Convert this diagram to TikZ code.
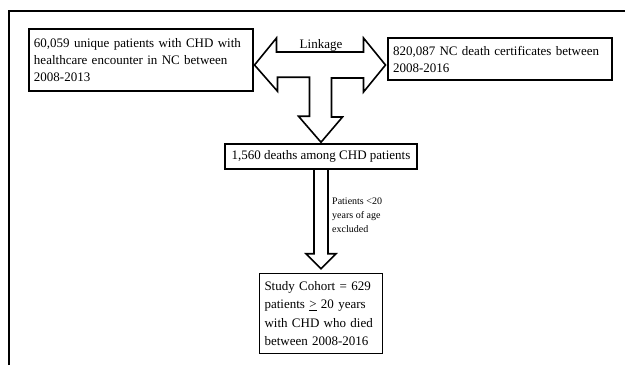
\documentclass[tikz,border=0pt]{standalone}
\usepackage{fontspec}
\setmainfont{Liberation Serif}
\usetikzlibrary{positioning, calc}

\begin{document}
\begin{tikzpicture}[x=1pt, y=-1pt, node distance=103pt,
        box/.style={rectangle, draw, line width=1.5pt, inner xsep=5pt, inner ysep=0pt, align=left, font=\fontsize{13}{17}\selectfont},
        fat/.style={draw, line width=1.6pt, line join=miter},
        note/.style={align=left, inner sep=1pt, font=\fontsize{10}{14}\selectfont}]

        \useasboundingbox (0,0) rectangle (625,365);

        % Frame
        \draw[line width=1.5pt] (9,365) -- (9,11) -- (625,11);

        % Sources
        \node [box, minimum width=224pt, minimum height=62pt, text width=214pt] (patients) at (141,60) {60,059 unique patients with CHD with\\healthcare encounter in NC between\\2008-2013};
        \node [box, minimum width=224pt, minimum height=42pt, text width=214pt] (certs) at (500,59) {820,087 NC death certificates between\\2008-2016};

        % Results
        \node [box, align=center, minimum width=192pt, minimum height=25pt] (deaths) at (321,156.5) {1,560 deaths among CHD patients};
        \node [box, below=103pt of deaths, minimum width=123pt, minimum height=80pt, text width=113pt, font=\fontsize{13}{18.5}\selectfont] (cohort) {Study Cohort = 629\\patients \underline{>} 20 years\\with CHD who died\\between 2008-2016};

        % Linkage arrow
        \coordinate (hub) at (320.5,65);
        \draw [fat] ($(hub)+(-66,0)$) -- ++(22,-27) -- ++(0,14) -- ++(87,0) -- ++(0,-14) -- ++(22,27) -- ++(-22,27) -- ++(0,-14)
            -- ++(-32,0) -- ++(0,39) -- ++(11,0) -- ($(deaths.north)+(0,-1)$) -- ++(-22.5,-26) -- ++(11,0) -- ++(0,-39) -- ++(-32,0) -- ++(0,14) -- cycle;
        \node [font=\fontsize{13}{17}\selectfont] (link) at (321,45) {Linkage};

        % Exclusion arrow
        \draw [fat] ($(deaths.south)+(-7,0)$) -- ($(cohort.north)+(-7,-19)$) -- ++(-8,0) -- ($(cohort.north)+(0,-4)$) -- ++(15,-15) -- ++(-8,0) -- ($(deaths.south)+(7,0)$);
        \node [note, anchor=west] (excl) at (331,215) {Patients <20\\years of age\\excluded};

    \end{tikzpicture}
\end{document}
